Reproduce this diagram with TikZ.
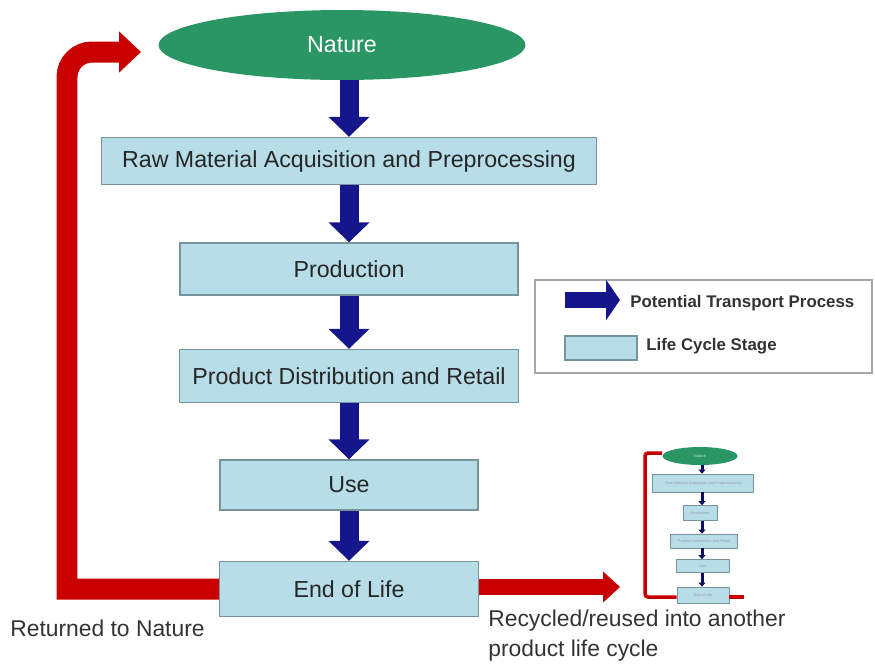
\documentclass[tikz,border=0pt]{standalone}
\usepackage{fontspec}
\setmainfont{Liberation Sans}
\usetikzlibrary{arrows.meta,shapes.geometric,positioning}

\definecolor{stagefill}{RGB}{183,221,232}
\definecolor{stageline}{RGB}{120,148,155}
\definecolor{naturegreen}{RGB}{42,150,100}
\definecolor{transportblue}{RGB}{22,22,140}
\definecolor{returnred}{RGB}{200,0,0}

\begin{document}
\begin{tikzpicture}[x=0.02cm,y=-0.02cm,
    stage/.style={draw=stageline,line width=0.8pt,fill=stagefill,inner sep=0pt,text=black!85,font=\fontsize{13.2}{15}\selectfont},
    tinystage/.style={draw=stageline,line width=0.4pt,fill=stagefill,inner sep=0pt,text=black!40,font=\fontsize{2.2}{2.5}\selectfont},
    transport/.style={draw=transportblue,line width=0.38cm,-{Triangle[width=0.8cm,length=0.4cm]}},
    caption/.style={inner sep=0pt,text=black!80,font=\fontsize{13}{17}\selectfont}]
        \useasboundingbox (0,0) rectangle (875,664);

        % Life cycle stages
        \node[ellipse,fill=naturegreen,minimum width=7.34cm,minimum height=1.4cm,text=white,font=\fontsize{13.2}{15}\selectfont] (nature) at (342,45) {Nature};
        \node[stage,minimum width=9.9cm,minimum height=0.94cm] (raw) at (349,161) {Raw Material Acquisition and Preprocessing};
        \node[stage,minimum width=6.76cm,minimum height=1.04cm] (production) at (349,269) {Production};
        \node[stage,minimum width=6.78cm,minimum height=1.06cm] (retail) at (349,376) {Product Distribution and Retail};
        \node[stage,minimum width=5.16cm,minimum height=1.0cm] (use) at (349,485) {Use};
        \node[stage,minimum width=5.18cm,minimum height=1.1cm] (eol) at (349,589) {End of Life};

        % Transport between stages
        \draw[transport] (nature.south -| raw.north) -- (raw.north);
        \draw[transport] (raw) -- (production);
        \draw[transport] (production) -- (retail);
        \draw[transport] (retail) -- (use);
        \draw[transport] (use) -- (eol);

        % End of life routes
        \coordinate (retcorner) at (67,589);
        \coordinate (rettop) at (67,52);
        \coordinate (retend) at (141,52);
        \coordinate (recyend) at (620,587);
        \draw[returnred,line width=0.42cm,-{Triangle[width=0.8cm,length=0.44cm]}] (eol.west) -- (retcorner) [rounded corners=0.5cm] -- (rettop) -- (retend);
        \draw[returnred,line width=0.32cm,-{Triangle[width=0.6cm,length=0.34cm]}] (eol.east |- recyend) -- (recyend);

        \node[caption,anchor=west] (returned) at (10,628) {Returned to Nature};
        \node[caption,anchor=west,align=left] (recycled) at (488,636) {Recycled/reused into another\\product life cycle};

        % Legend
        \node[draw=black!35,line width=1pt,minimum width=6.74cm,minimum height=1.86cm] (legend) at (703.5,326.5) {};
        \coordinate (legstart) at (565,300);
        \coordinate (legtip) at (620,300);
        \draw[transportblue,line width=0.32cm,-{Triangle[width=0.8cm,length=0.28cm]}] (legstart) -- (legtip);
        \node[inner sep=0pt,anchor=west,font=\fontsize{9.6}{11}\selectfont\bfseries,text=black!80] (legtransport) at (630,303) {Potential Transport Process};
        \node[draw=stageline,line width=0.8pt,fill=stagefill,minimum width=1.44cm,minimum height=0.48cm] (legstage) at (601,348) {};
        \node[inner sep=0pt,anchor=west,font=\fontsize{9.6}{11}\selectfont\bfseries,text=black!80] (legstagetext) at (646,346) {Life Cycle Stage};

        % Next product life cycle (small copy)
        \node[ellipse,fill=naturegreen,minimum width=1.5cm,minimum height=0.36cm,inner sep=0pt,text=white!80!naturegreen,font=\fontsize{2.2}{2.5}\selectfont] (tnature) at (700,456) {Nature};
        \node[tinystage,minimum width=2.02cm,minimum height=0.36cm] (traw) at (703,483) {Raw Material Acquisition and Preprocessing};
        \node[tinystage,minimum width=0.68cm,minimum height=0.3cm] (tproduction) at (700,513) {Production};
        \node[tinystage,minimum width=1.34cm,minimum height=0.28cm] (tretail) at (704,541) {Product Distribution and Retail};
        \node[tinystage,minimum width=1.06cm,minimum height=0.26cm] (tuse) at (703,566) {Use};
        \node[tinystage,minimum width=1.04cm,minimum height=0.32cm] (teol) at (703,595) {End of Life};
        \foreach \a/\b in {tnature/traw,traw/tproduction,tproduction/tretail,tretail/tuse,tuse/teol}
            \draw[transportblue!70!black,line width=0.06cm,-{Triangle[width=0.14cm,length=0.08cm]}] (\a.south -| 702,0) -- (\b.north -| 702,0);
        \coordinate (tretcorner) at (645,597);
        \coordinate (trettop) at (645,453);
        \coordinate (trecyend) at (744,597);
        \draw[returnred,line width=0.07cm,rounded corners=0.06cm] (teol.west |- tretcorner) -- (tretcorner) -- (trettop) -- (tnature.west |- trettop);
        \draw[returnred,line width=0.07cm] (teol.east |- trecyend) -- (trecyend);
\end{tikzpicture}
\end{document}
